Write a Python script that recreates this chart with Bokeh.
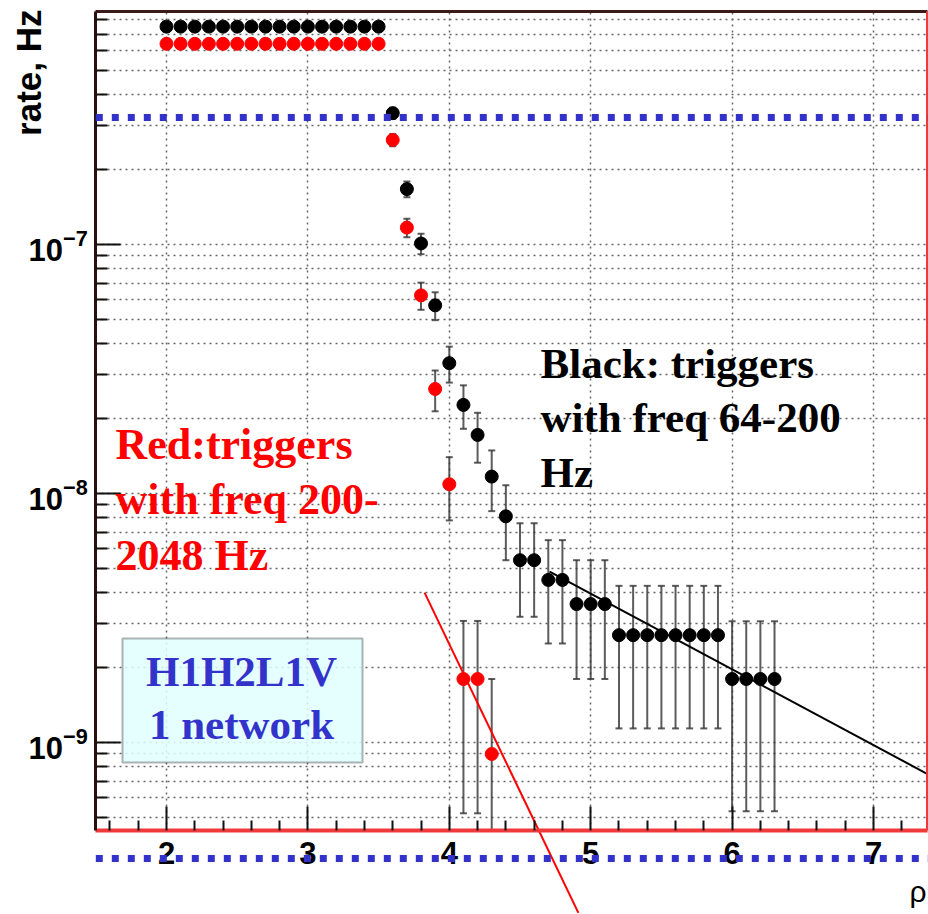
import math
from bokeh.plotting import figure
from bokeh.models import (FixedTicker, LogTickFormatter, SingleIntervalTicker, Label,
                          Arrow, BoxAnnotation, ColumnDataSource, LinearAxis, LogAxis, Grid)
from bokeh.embed import file_html
from bokeh.resources import INLINE

# ---------------- data ----------------
rho_black = [2.0, 2.1, 2.2, 2.3, 2.4, 2.5, 2.6, 2.7, 2.8, 2.9, 3.0, 3.1, 3.2, 3.3, 3.4, 3.5,
             3.6, 3.7, 3.8, 3.9, 4.0, 4.1, 4.2, 4.3, 4.4, 4.5, 4.6, 4.7, 4.8, 4.9, 5.0, 5.1,
             5.2, 5.3, 5.4, 5.5, 5.6, 5.7, 5.8, 5.9, 6.0, 6.1, 6.2, 6.3]
rate_black = [7.5e-7] * 16 + [3.37e-7, 1.67e-7, 1.01e-7, 5.7e-8, 3.34e-8, 2.27e-8, 1.72e-8,
                              1.17e-8, 8.1e-9, 5.4e-9, 5.4e-9, 4.5e-9, 4.5e-9, 3.6e-9, 3.6e-9,
                              3.6e-9] + [2.7e-9] * 8 + [1.8e-9] * 4
err_black = [2.6e-8] * 16 + [1.7e-8, 1.2e-8, 9.5e-9, 7.3e-9, 5.5e-9, 4.5e-9, 3.9e-9, 3.2e-9,
                             2.7e-9, 2.2e-9, 2.2e-9, 2.0e-9, 2.0e-9, 1.8e-9, 1.8e-9, 1.8e-9] \
    + [1.56e-9] * 8 + [1.27e-9] * 4

rho_red = [2.0, 2.1, 2.2, 2.3, 2.4, 2.5, 2.6, 2.7, 2.8, 2.9, 3.0, 3.1, 3.2, 3.3, 3.4, 3.5,
           3.6, 3.7, 3.8, 3.9, 4.0, 4.1, 4.2, 4.3]
rate_red = [6.4e-7] * 16 + [2.63e-7, 1.17e-7, 6.25e-8, 2.63e-8, 1.09e-8, 1.8e-9, 1.8e-9, 0.9e-9]
err_red = [2.4e-8] * 16 + [1.5e-8, 1.0e-8, 7.8e-9, 4.9e-9, 3.1e-9, 1.28e-9, 1.28e-9, 0.9e-9]

fit_black_x = [4.709, 7.389]
fit_black_y = [4.86e-9, 7.44e-10]
fit_red_x = [3.825, 4.913]
fit_red_y = [4.0e-9, 2.07e-10]

x_major = [2, 3, 4, 5, 6, 7]
y_major = [1e-9, 1e-8, 1e-7]

# plotting frame (ROOT style box) and the full canvas ranges
FRAME_X = (1.5, 7.382)
FRAME_Y = (4.43e-10, 8.62e-7)
X_RANGE = (0.826, 7.389)
Y_RANGE = (2.04e-10, 9.55e-7)
W, H = 928, 914


def px2x(px):
    return X_RANGE[0] + px / W * (X_RANGE[1] - X_RANGE[0])


def py2y(py):
    lt, lb = math.log10(Y_RANGE[1]), math.log10(Y_RANGE[0])
    return 10 ** (lt - py / H * (lt - lb))


p = figure(width=W, height=H, x_range=X_RANGE, y_range=Y_RANGE, y_axis_type="log",
           output_backend="svg", toolbar_location=None,
           min_border=0, min_border_left=0, min_border_right=0, min_border_top=0,
           min_border_bottom=0)
p.background_fill_color = "white"
p.border_fill_color = "white"
p.outline_line_color = None

xa = p.xaxis[0]
ya = p.yaxis[0]
xa.fixed_location = FRAME_Y[0]
xa.bounds = FRAME_X
ya.fixed_location = FRAME_X[0]
ya.bounds = FRAME_Y

y_minor = [k * 10 ** e for e in (-10, -9, -8, -7) for k in range(2, 10)
           if FRAME_Y[0] <= k * 10 ** e <= FRAME_Y[1]]
x_minor = [m / 10 for m in range(16, 74, 2) if (m / 10) not in x_major]
xa.ticker = FixedTicker(ticks=x_major, minor_ticks=x_minor)
ya.ticker = FixedTicker(ticks=y_major, minor_ticks=y_minor)
ya.formatter = LogTickFormatter()
for ax in (xa, ya):
    ax.major_tick_out = 0
    ax.minor_tick_out = 0
    ax.major_tick_line_color = "#111111"
    ax.minor_tick_line_color = "#111111"
    ax.major_tick_line_width = 2
    ax.minor_tick_line_width = 2
    ax.major_label_text_font = "Liberation Sans"
    ax.major_label_text_font_style = "bold"
    ax.major_label_text_font_size = "31px"
    ax.major_label_text_color = "#000000"
xa.major_tick_in = 24
xa.minor_tick_in = 10
ya.major_tick_in = 25
ya.minor_tick_in = 12
xa.major_label_standoff = 11
ya.major_label_standoff = 8
xa.axis_line_color = "#f03a3a"
xa.axis_line_width = 4
ya.axis_line_color = "#2a1010"
ya.axis_line_width = 3

# top and right edges of the frame
top_ax = LinearAxis(fixed_location=FRAME_Y[1], bounds=FRAME_X, ticker=FixedTicker(ticks=[]),
                    major_label_text_font_size="0px", axis_line_color="#3a1a1a",
                    axis_line_width=3, major_tick_line_color=None, minor_tick_line_color=None)
p.add_layout(top_ax, "above")
right_ax = LogAxis(fixed_location=FRAME_X[1], bounds=FRAME_Y, ticker=FixedTicker(ticks=[]),
                   major_label_text_font_size="0px", axis_line_color="#f03a3a",
                   axis_line_width=3, major_tick_line_color=None, minor_tick_line_color=None)
p.add_layout(right_ax, "right")

# grids (limited to the frame box)
has_cb = "cross_bounds" in Grid.properties()
for g, b, cb in ((p.xgrid[0], FRAME_X, FRAME_Y), (p.ygrid[0], FRAME_Y, FRAME_X)):
    g.grid_line_color = "#666666"
    g.grid_line_dash = "2 4"
    g.grid_line_width = 1.5
    g.bounds = b
    if has_cb:
        g.cross_bounds = cb
p.ygrid[0].minor_grid_line_color = "#666666"
p.ygrid[0].minor_grid_line_dash = "2 4"
p.ygrid[0].minor_grid_line_width = 1.5

# info box
box = BoxAnnotation(left=px2x(122), right=px2x(362), top=py2y(638), bottom=py2y(762),
                    fill_color="#e0ffff", fill_alpha=0.85, line_color="black", line_width=2,
                    level="underlay")
p.add_layout(box)


def add_series(xs, ys, es, color):
    lo = [max(v - e, FRAME_Y[0]) for v, e in zip(ys, es)]
    hi = [v + e for v, e in zip(ys, es)]
    src = ColumnDataSource(dict(x=xs, y=ys, lo=lo, hi=hi))
    caps = ColumnDataSource(dict(x=[x for x, l in zip(xs, lo) if l > FRAME_Y[0]] + xs,
                                 y=[l for l in lo if l > FRAME_Y[0]] + hi))
    p.segment(x0="x", y0="lo", x1="x", y1="hi", source=src, line_color="#333333",
              line_alpha=0.8, line_width=2)
    p.scatter(x="x", y="y", source=caps, marker="dash", size=7, line_color="#333333",
              line_alpha=0.8, line_width=2)
    p.scatter(x="x", y="y", source=src, marker="circle", size=13, fill_color=color,
              line_color=color)


add_series(rho_black, rate_black, err_black, "#000000")
add_series(rho_red, rate_red, err_red, "#ff0000")

# fit lines
p.line(fit_black_x, fit_black_y, line_color="black", line_width=2)
p.line(fit_red_x, fit_red_y, line_color="#ff0000", line_width=2)

# blue dotted lines
for py in (117, 858):
    p.add_layout(Arrow(end=None, x_start=FRAME_X[0], y_start=py2y(py), x_end=X_RANGE[1],
                       y_end=py2y(py), line_color="#3333cc", line_width=7, line_dash="7 9"))

# texts
serif = "Liberation Serif"
p.add_layout(Label(x=px2x(540), y=py2y(339), text="Black: triggers\nwith freq 64-200\nHz",
                   text_font=serif, text_font_style="bold", text_font_size="43px",
                   text_color="black", text_baseline="top", text_align="left",
                   text_line_height=1.16))
p.add_layout(Label(x=px2x(115), y=py2y(419), text="Red:triggers\nwith freq 200-\n2048 Hz",
                   text_font=serif, text_font_style="bold", text_font_size="44px",
                   text_color="#ff0000", text_baseline="top", text_align="left",
                   text_line_height=1.14))
p.add_layout(Label(x=px2x(241), y=py2y(647), text="H1H2L1V\n1 network",
                   text_font=serif, text_font_style="bold", text_font_size="43px",
                   text_color="#3333cc", text_baseline="top", text_align="center",
                   text_line_height=1.14))
p.add_layout(Label(x=px2x(28), y=py2y(9), text="rate, Hz", angle=math.pi / 2,
                   text_font="Liberation Sans", text_font_style="bold", text_font_size="35px",
                   text_color="black", text_align="right", text_baseline="middle"))
p.add_layout(Label(x=px2x(909), y=py2y(874), text="ρ",
                   text_font="Liberation Sans", text_font_size="30px",
                   text_color="black", text_align="left", text_baseline="top"))

open("out.html", "w").write(file_html(p, INLINE))
